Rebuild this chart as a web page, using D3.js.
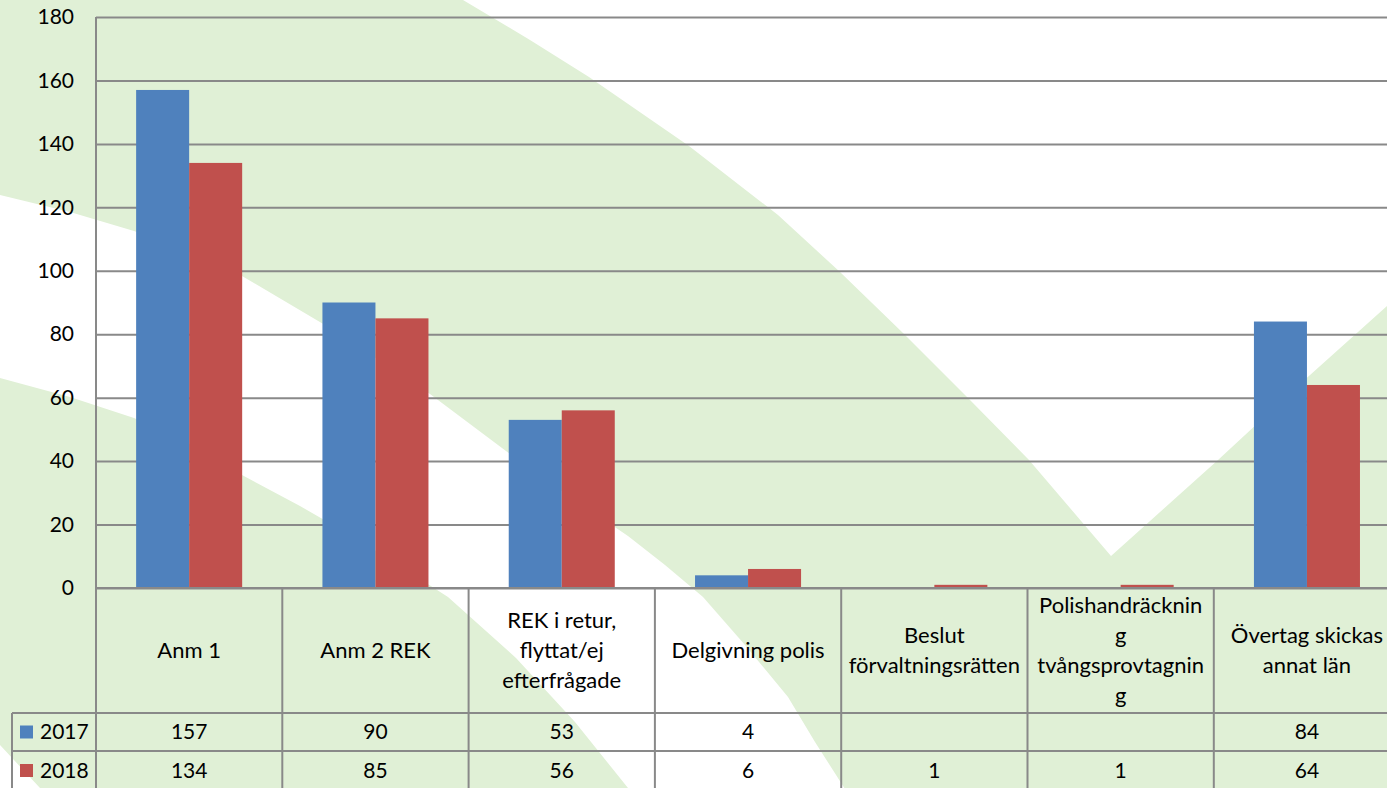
<!DOCTYPE html>
<html>
<head>
<meta charset="utf-8">
<script src="https://cdn.jsdelivr.net/npm/d3@7"></script>
<style>
  html, body { margin: 0; padding: 0; background: #fff; overflow: hidden; }
  text { font-family: Lato, "Noto Sans", sans-serif; fill: #000; }
</style>
</head>
<body>
<div id="chart"></div>
<script>
// Chart data
var categories = [
    "Anm 1",
    "Anm 2 REK",
    "REK i retur,\nflyttat/ej\nefterfrågade",
    "Delgivning polis",
    "Beslut\nförvaltningsrätten",
    "Polishandräcknin\ng\ntvångsprovtagnin\ng",
    "Övertag skickas\nannat län"
];
var seriesNames = ["2017", "2018"];
var values2017 = [157, 90, 53, 4, null, null, 84];
var values2018 = [134, 85, 56, 6, 1, 1, 64];
var yTicks = [0, 20, 40, 60, 80, 100, 120, 140, 160, 180];
var colors = ["#4f81bd", "#c0504d"];

// Page size
var svgWidth = 1387;
var svgHeight = 788;

// Plot area
var plotLeft = 96, plotTop = 17, plotBottom = 588;
var colWidth = 186.3;
var tableLeft = 12;
var headerBottom = 713, row1Bottom = 751;

var svg = d3.select("#chart")
    .append("svg")
    .attr("width", svgWidth)
    .attr("height", svgHeight);

// Light green check-mark watermark behind the chart
var watermark = [
    [[0,0],[463,0],[530,40],[589,77],[689,146],[778,215],[840,272],[903,333],[970,400],[1029,460],[1111,556],
     [1218,460],[1300,384],[1387,306],
     [1387,788],[845,789],[815,742],[788,697],[745,645],[703,597],[665,565],[628,536],[538,475],[430,394],
     [330,328],[242,276],[185,250],[134,231],[70,212],[0,195]],
    [[0,378],[70,397],[134,418],[190,444],[242,475],[300,506],[359,540],[448,597],[516,658],[575,722],[628,788],
     [40,788],[0,745]]
];
svg.selectAll("path.wm")
    .data(watermark)
    .enter()
    .append("path")
    .attr("class", "wm")
    .attr("d", d => d3.line()(d) + "Z")
    .attr("fill", "#e0f0d6");

// Scales
var xScale = d3.scaleBand()
    .domain(categories)
    .range([plotLeft, plotLeft + colWidth * categories.length])
    .paddingInner(0)
    .paddingOuter(0);

var xSub = d3.scaleBand()
    .domain(seriesNames)
    .range([0, xScale.bandwidth()])
    .paddingInner(0)
    .paddingOuter(0.757);

var yScale = d3.scaleLinear()
    .domain([0, 180])
    .range([plotBottom, plotTop]);

// Gridlines + y labels
var yAxis = d3.axisLeft(yScale)
    .tickValues(yTicks)
    .tickSize(-(svgWidth - plotLeft))
    .tickPadding(22);

var yG = svg.append("g")
    .attr("transform", `translate(${plotLeft}, 0)`)
    .call(yAxis);
yG.select(".domain").remove();
yG.selectAll(".tick line")
    .attr("stroke", "#898989")
    .attr("stroke-width", 2);
yG.selectAll(".tick text")
    .style("font-size", "21px")
    .attr("fill", "#000");

// Bars
var seriesData = [values2017, values2018];
seriesData.forEach(function(vals, si) {
    svg.append("g")
        .selectAll("rect")
        .data(categories.map((c, i) => ({cat: c, v: vals[i]})).filter(d => d.v != null))
        .enter()
        .append("rect")
        .attr("x", d => xScale(d.cat) + xSub(seriesNames[si]))
        .attr("y", d => yScale(d.v))
        .attr("width", xSub.bandwidth())
        .attr("height", d => plotBottom - yScale(d.v))
        .attr("fill", colors[si]);
});

// Axis line / table lines
var lineColor = "#898989";
var grid = svg.append("g")
    .attr("stroke", lineColor)
    .attr("stroke-width", 2);

grid.append("line")
    .attr("x1", plotLeft).attr("x2", plotLeft)
    .attr("y1", plotTop).attr("y2", svgHeight);
grid.append("line")
    .attr("x1", plotLeft).attr("x2", svgWidth)
    .attr("y1", plotBottom).attr("y2", plotBottom);

categories.forEach(function(c) {
    var xr = xScale(c) + xScale.bandwidth();
    grid.append("line")
        .attr("x1", xr).attr("x2", xr)
        .attr("y1", plotBottom).attr("y2", svgHeight);
});
[headerBottom, row1Bottom].forEach(function(y) {
    grid.append("line")
        .attr("x1", tableLeft).attr("x2", svgWidth)
        .attr("y1", y).attr("y2", y);
});
grid.append("line")
    .attr("x1", tableLeft).attr("x2", tableLeft)
    .attr("y1", headerBottom).attr("y2", svgHeight);

// Category header labels
var lineHeight = 30;
categories.forEach(function(c) {
    var lines = c.split("\n");
    var cx = xScale(c) + xScale.bandwidth() / 2;
    var cy = (plotBottom + headerBottom) / 2;
    var t = svg.append("text")
        .attr("text-anchor", "middle")
        .style("font-size", "22px");
    lines.forEach(function(l, i) {
        t.append("tspan")
            .attr("x", cx)
            .attr("y", cy + (i - (lines.length - 1) / 2) * lineHeight)
            .attr("dy", "0.35em")
            .text(l);
    });
});

// Value rows with legend keys
var rowCenters = [(headerBottom + row1Bottom) / 2, (row1Bottom + 790) / 2];
seriesData.forEach(function(vals, si) {
    var cy = rowCenters[si];
    svg.append("rect")
        .attr("x", 20)
        .attr("y", cy - 6.5)
        .attr("width", 13)
        .attr("height", 13)
        .attr("fill", colors[si]);
    svg.append("text")
        .attr("x", 40)
        .attr("y", cy)
        .attr("dy", "0.35em")
        .style("font-size", "21px")
        .text(seriesNames[si]);
    svg.append("g")
        .selectAll("text")
        .data(categories.map((c, i) => ({cat: c, v: vals[i]})).filter(d => d.v != null))
        .enter()
        .append("text")
        .attr("x", d => xScale(d.cat) + xScale.bandwidth() / 2)
        .attr("y", cy)
        .attr("dy", "0.35em")
        .attr("text-anchor", "middle")
        .style("font-size", "21px")
        .text(d => d.v);
});
</script>
</body>
</html>
